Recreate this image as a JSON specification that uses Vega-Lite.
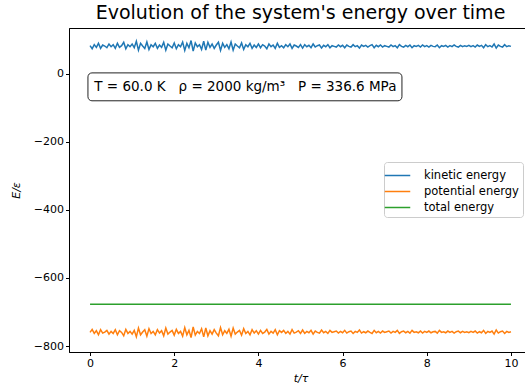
{
  "$schema": "https://vega.github.io/schema/vega-lite/v6.json",
  "autosize": "none",
  "width": 463,
  "height": 324,
  "padding": {"left": 69, "top": 28, "right": 0, "bottom": 40},
  "background": "white",
  "title": {"text": "Evolution of the system's energy over time", "font": "DejaVu Sans", "fontSize": 19, "fontWeight": "normal", "color": "#000", "offset": 5},
  "config": {
    "view": {"stroke": "#000", "strokeWidth": 1},
    "axis": {"domainColor": "#000", "tickColor": "#000", "labelColor": "#000", "titleColor": "#000", "labelFont": "DejaVu Sans", "labelFontSize": 11, "titleFont": "DejaVu Sans", "titleFontSize": 11, "titleFontWeight": "normal", "titleFontStyle": "italic", "grid": false, "tickSize": 3.5, "labelPadding": 2},
    "legend": {"labelFont": "DejaVu Sans", "labelFontSize": 11.5, "labelColor": "#000"}
  },
  "datasets": {
    "energy": [
{"t":0,"k":83,"p":-760,"e":-677},{"t":0.05,"k":74,"p":-751,"e":-677},{"t":0.1,"k":86,"p":-763,"e":-677},{"t":0.15,"k":78,"p":-755,"e":-677},{"t":0.2,"k":90,"p":-767,"e":-677},
{"t":0.25,"k":75,"p":-752,"e":-677},{"t":0.3,"k":85,"p":-762,"e":-677},{"t":0.35,"k":82,"p":-759,"e":-677},{"t":0.4,"k":77,"p":-754,"e":-677},{"t":0.45,"k":88,"p":-765,"e":-677},
{"t":0.5,"k":80,"p":-757,"e":-677},{"t":0.55,"k":86,"p":-763,"e":-677},{"t":0.6,"k":75,"p":-752,"e":-677},{"t":0.65,"k":90,"p":-767,"e":-677},{"t":0.7,"k":78,"p":-755,"e":-677},
{"t":0.75,"k":83,"p":-760,"e":-677},{"t":0.8,"k":93,"p":-770,"e":-677},{"t":0.85,"k":74,"p":-751,"e":-677},{"t":0.9,"k":86,"p":-763,"e":-677},{"t":0.95,"k":80,"p":-757,"e":-677},
{"t":1.0,"k":88,"p":-765,"e":-677},{"t":1.05,"k":77,"p":-754,"e":-677},{"t":1.1,"k":96,"p":-773,"e":-677},{"t":1.15,"k":70,"p":-747,"e":-677},{"t":1.2,"k":90,"p":-767,"e":-677},
{"t":1.25,"k":82,"p":-759,"e":-677},{"t":1.3,"k":75,"p":-752,"e":-677},{"t":1.35,"k":94,"p":-771,"e":-677},{"t":1.4,"k":72,"p":-749,"e":-677},{"t":1.45,"k":86,"p":-763,"e":-677},
{"t":1.5,"k":80,"p":-757,"e":-677},{"t":1.55,"k":90,"p":-767,"e":-677},{"t":1.6,"k":75,"p":-752,"e":-677},{"t":1.65,"k":85,"p":-762,"e":-677},{"t":1.7,"k":78,"p":-755,"e":-677},
{"t":1.75,"k":93,"p":-770,"e":-677},{"t":1.8,"k":70,"p":-747,"e":-677},{"t":1.85,"k":88,"p":-765,"e":-677},{"t":1.9,"k":82,"p":-759,"e":-677},{"t":1.95,"k":77,"p":-754,"e":-677},
{"t":2.0,"k":91,"p":-768,"e":-677},{"t":2.05,"k":74,"p":-751,"e":-677},{"t":2.1,"k":86,"p":-763,"e":-677},{"t":2.15,"k":80,"p":-757,"e":-677},{"t":2.2,"k":94,"p":-771,"e":-677},
{"t":2.25,"k":69,"p":-746,"e":-677},{"t":2.3,"k":90,"p":-767,"e":-677},{"t":2.35,"k":77,"p":-754,"e":-677},{"t":2.4,"k":98,"p":-775,"e":-677},{"t":2.45,"k":67,"p":-744,"e":-677},
{"t":2.5,"k":91,"p":-768,"e":-677},{"t":2.55,"k":80,"p":-757,"e":-677},{"t":2.6,"k":86,"p":-763,"e":-677},{"t":2.65,"k":72,"p":-749,"e":-677},{"t":2.7,"k":96,"p":-773,"e":-677},
{"t":2.75,"k":70,"p":-747,"e":-677},{"t":2.8,"k":93,"p":-770,"e":-677},{"t":2.85,"k":78,"p":-755,"e":-677},{"t":2.9,"k":88,"p":-765,"e":-677},{"t":2.95,"k":75,"p":-752,"e":-677},
{"t":3.0,"k":85,"p":-762,"e":-677},{"t":3.05,"k":93,"p":-770,"e":-677},{"t":3.1,"k":69,"p":-746,"e":-677},{"t":3.15,"k":90,"p":-767,"e":-677},{"t":3.2,"k":78,"p":-755,"e":-677},
{"t":3.25,"k":86,"p":-763,"e":-677},{"t":3.3,"k":74,"p":-751,"e":-677},{"t":3.35,"k":94,"p":-771,"e":-677},{"t":3.4,"k":70,"p":-747,"e":-677},{"t":3.45,"k":88,"p":-765,"e":-677},
{"t":3.5,"k":82,"p":-759,"e":-677},{"t":3.55,"k":77,"p":-754,"e":-677},{"t":3.6,"k":91,"p":-768,"e":-677},{"t":3.65,"k":72,"p":-749,"e":-677},{"t":3.7,"k":86,"p":-763,"e":-677},
{"t":3.75,"k":80,"p":-757,"e":-677},{"t":3.8,"k":90,"p":-767,"e":-677},{"t":3.85,"k":75,"p":-752,"e":-677},{"t":3.9,"k":85,"p":-762,"e":-677},{"t":3.95,"k":78,"p":-755,"e":-677},
{"t":4.0,"k":88,"p":-765,"e":-677},{"t":4.05,"k":77,"p":-754,"e":-677},{"t":4.1,"k":86,"p":-763,"e":-677},{"t":4.15,"k":82,"p":-759,"e":-677},{"t":4.2,"k":74,"p":-751,"e":-677},
{"t":4.25,"k":88,"p":-765,"e":-677},{"t":4.3,"k":80,"p":-757,"e":-677},{"t":4.35,"k":85,"p":-762,"e":-677},{"t":4.4,"k":75,"p":-752,"e":-677},{"t":4.45,"k":90,"p":-767,"e":-677},
{"t":4.5,"k":78,"p":-755,"e":-677},{"t":4.55,"k":83,"p":-760,"e":-677},{"t":4.6,"k":77,"p":-754,"e":-677},{"t":4.65,"k":86,"p":-763,"e":-677},{"t":4.7,"k":80,"p":-757,"e":-677},
{"t":4.75,"k":88,"p":-765,"e":-677},{"t":4.8,"k":75,"p":-752,"e":-677},{"t":4.85,"k":85,"p":-762,"e":-677},{"t":4.9,"k":82,"p":-759,"e":-677},{"t":4.95,"k":78,"p":-755,"e":-677},
{"t":5.0,"k":86,"p":-763,"e":-677},{"t":5.05,"k":76,"p":-753,"e":-677},{"t":5.1,"k":86,"p":-763,"e":-677},{"t":5.15,"k":80,"p":-757,"e":-677},{"t":5.2,"k":84,"p":-761,"e":-677},
{"t":5.25,"k":77,"p":-754,"e":-677},{"t":5.3,"k":88,"p":-765,"e":-677},{"t":5.35,"k":79,"p":-756,"e":-677},{"t":5.4,"k":83,"p":-760,"e":-677},{"t":5.45,"k":85,"p":-762,"e":-677},
{"t":5.5,"k":76,"p":-753,"e":-677},{"t":5.55,"k":84,"p":-761,"e":-677},{"t":5.6,"k":80,"p":-757,"e":-677},{"t":5.65,"k":86,"p":-763,"e":-677},{"t":5.7,"k":77,"p":-754,"e":-677},
{"t":5.75,"k":83,"p":-760,"e":-677},{"t":5.8,"k":81,"p":-758,"e":-677},{"t":5.85,"k":79,"p":-756,"e":-677},{"t":5.9,"k":85,"p":-762,"e":-677},{"t":5.95,"k":80,"p":-757,"e":-677},
{"t":6.0,"k":84,"p":-761,"e":-677},{"t":6.05,"k":77,"p":-754,"e":-677},{"t":6.1,"k":85,"p":-762,"e":-677},{"t":6.15,"k":81,"p":-758,"e":-677},{"t":6.2,"k":79,"p":-756,"e":-677},
{"t":6.25,"k":86,"p":-763,"e":-677},{"t":6.3,"k":80,"p":-757,"e":-677},{"t":6.35,"k":83,"p":-760,"e":-677},{"t":6.4,"k":76,"p":-753,"e":-677},{"t":6.45,"k":85,"p":-762,"e":-677},
{"t":6.5,"k":81,"p":-758,"e":-677},{"t":6.55,"k":84,"p":-761,"e":-677},{"t":6.6,"k":79,"p":-756,"e":-677},{"t":6.65,"k":83,"p":-760,"e":-677},{"t":6.7,"k":86,"p":-763,"e":-677},
{"t":6.75,"k":77,"p":-754,"e":-677},{"t":6.8,"k":84,"p":-761,"e":-677},{"t":6.85,"k":80,"p":-757,"e":-677},{"t":6.9,"k":85,"p":-762,"e":-677},{"t":6.95,"k":79,"p":-756,"e":-677},
{"t":7.0,"k":83,"p":-760,"e":-677},{"t":7.05,"k":81,"p":-758,"e":-677},{"t":7.1,"k":79,"p":-756,"e":-677},{"t":7.15,"k":85,"p":-762,"e":-677},{"t":7.2,"k":80,"p":-757,"e":-677},
{"t":7.25,"k":83,"p":-760,"e":-677},{"t":7.3,"k":77,"p":-754,"e":-677},{"t":7.35,"k":86,"p":-763,"e":-677},{"t":7.4,"k":81,"p":-758,"e":-677},{"t":7.45,"k":79,"p":-756,"e":-677},
{"t":7.5,"k":84,"p":-761,"e":-677},{"t":7.55,"k":80,"p":-757,"e":-677},{"t":7.6,"k":85,"p":-762,"e":-677},{"t":7.65,"k":77,"p":-754,"e":-677},{"t":7.7,"k":83,"p":-760,"e":-677},
{"t":7.75,"k":81,"p":-758,"e":-677},{"t":7.8,"k":84,"p":-761,"e":-677},{"t":7.85,"k":79,"p":-756,"e":-677},{"t":7.9,"k":85,"p":-762,"e":-677},{"t":7.95,"k":80,"p":-757,"e":-677},
{"t":8.0,"k":83,"p":-760,"e":-677},{"t":8.05,"k":79,"p":-756,"e":-677},{"t":8.1,"k":84,"p":-761,"e":-677},{"t":8.15,"k":81,"p":-758,"e":-677},{"t":8.2,"k":80,"p":-757,"e":-677},
{"t":8.25,"k":85,"p":-762,"e":-677},{"t":8.3,"k":77,"p":-754,"e":-677},{"t":8.35,"k":83,"p":-760,"e":-677},{"t":8.4,"k":81,"p":-758,"e":-677},{"t":8.45,"k":84,"p":-761,"e":-677},
{"t":8.5,"k":79,"p":-756,"e":-677},{"t":8.55,"k":83,"p":-760,"e":-677},{"t":8.6,"k":80,"p":-757,"e":-677},{"t":8.65,"k":85,"p":-762,"e":-677},{"t":8.7,"k":81,"p":-758,"e":-677},
{"t":8.75,"k":79,"p":-756,"e":-677},{"t":8.8,"k":84,"p":-761,"e":-677},{"t":8.85,"k":80,"p":-757,"e":-677},{"t":8.9,"k":83,"p":-760,"e":-677},{"t":8.95,"k":81,"p":-758,"e":-677},
{"t":9.0,"k":84,"p":-761,"e":-677},{"t":9.05,"k":80,"p":-757,"e":-677},{"t":9.1,"k":83,"p":-760,"e":-677},{"t":9.15,"k":79,"p":-756,"e":-677},{"t":9.2,"k":85,"p":-762,"e":-677},
{"t":9.25,"k":81,"p":-758,"e":-677},{"t":9.3,"k":84,"p":-761,"e":-677},{"t":9.35,"k":77,"p":-754,"e":-677},{"t":9.4,"k":86,"p":-763,"e":-677},{"t":9.45,"k":80,"p":-757,"e":-677},
{"t":9.5,"k":83,"p":-760,"e":-677},{"t":9.55,"k":79,"p":-756,"e":-677},{"t":9.6,"k":88,"p":-765,"e":-677},{"t":9.65,"k":76,"p":-753,"e":-677},{"t":9.7,"k":85,"p":-762,"e":-677},
{"t":9.75,"k":81,"p":-758,"e":-677},{"t":9.8,"k":79,"p":-756,"e":-677},{"t":9.85,"k":86,"p":-763,"e":-677},{"t":9.9,"k":80,"p":-757,"e":-677},{"t":9.95,"k":83,"p":-760,"e":-677},
{"t":10.0,"k":81,"p":-758,"e":-677}
    ],
    "box": [{"xa": -0.05, "xb": 7.41, "ya": 3, "yb": -79}],
    "note": [{"x": 3.69, "y": -38, "label": "T = 60.0 K\u00a0\u00a0\u00a0ρ = 2000 kg/m³\u00a0\u00a0\u00a0P = 336.6 MPa"}]
  },
  "layer": [
    {
      "data": {"name": "energy"},
      "transform": [{"fold": ["k", "p", "e"], "as": ["series", "E"]}],
      "mark": {"type": "line", "strokeWidth": 1.5},
      "encoding": {
        "x": {"field": "t", "type": "quantitative", "scale": {"domain": [-0.5, 10.5], "nice": false, "zero": false}, "axis": {"title": "t/τ", "values": [0, 2, 4, 6, 8, 10], "titlePadding": 4}},
        "y": {"field": "E", "type": "quantitative", "scale": {"domain": [-817.6, 135], "nice": false, "zero": false}, "axis": {"title": "E/ε", "values": [-800, -600, -400, -200, 0], "titlePadding": 12}},
        "color": {"field": "series", "type": "nominal", "scale": {"domain": ["k", "p", "e"], "range": ["#1f77b4", "#ff7f0e", "#2ca02c"]},
          "legend": {"title": null, "orient": "none", "legendX": 315, "legendY": 134, "symbolType": "M-1.5,0L1.5,0", "symbolSize": 289, "symbolStrokeWidth": 1.5, "labelOffset": 17, "padding": 4, "rowPadding": 1, "strokeColor": "#cccccc", "fillColor": "white", "cornerRadius": 3,
            "labelExpr": "datum.label == 'k' ? 'kinetic energy' : datum.label == 'p' ? 'potential energy' : 'total energy'"}}
      }
    },
    {
      "data": {"name": "box"},
      "mark": {"type": "rect", "fill": "white", "stroke": "#222", "strokeWidth": 1, "cornerRadius": 4},
      "encoding": {
        "x": {"field": "xa", "type": "quantitative"},
        "x2": {"field": "xb"},
        "y": {"field": "ya", "type": "quantitative"},
        "y2": {"field": "yb"}
      }
    },
    {
      "data": {"name": "note"},
      "mark": {"type": "text", "font": "DejaVu Sans", "fontSize": 13.5, "color": "#000", "align": "center", "baseline": "middle"},
      "encoding": {
        "x": {"field": "x", "type": "quantitative"},
        "y": {"field": "y", "type": "quantitative"},
        "text": {"field": "label"}
      }
    }
  ]
}
